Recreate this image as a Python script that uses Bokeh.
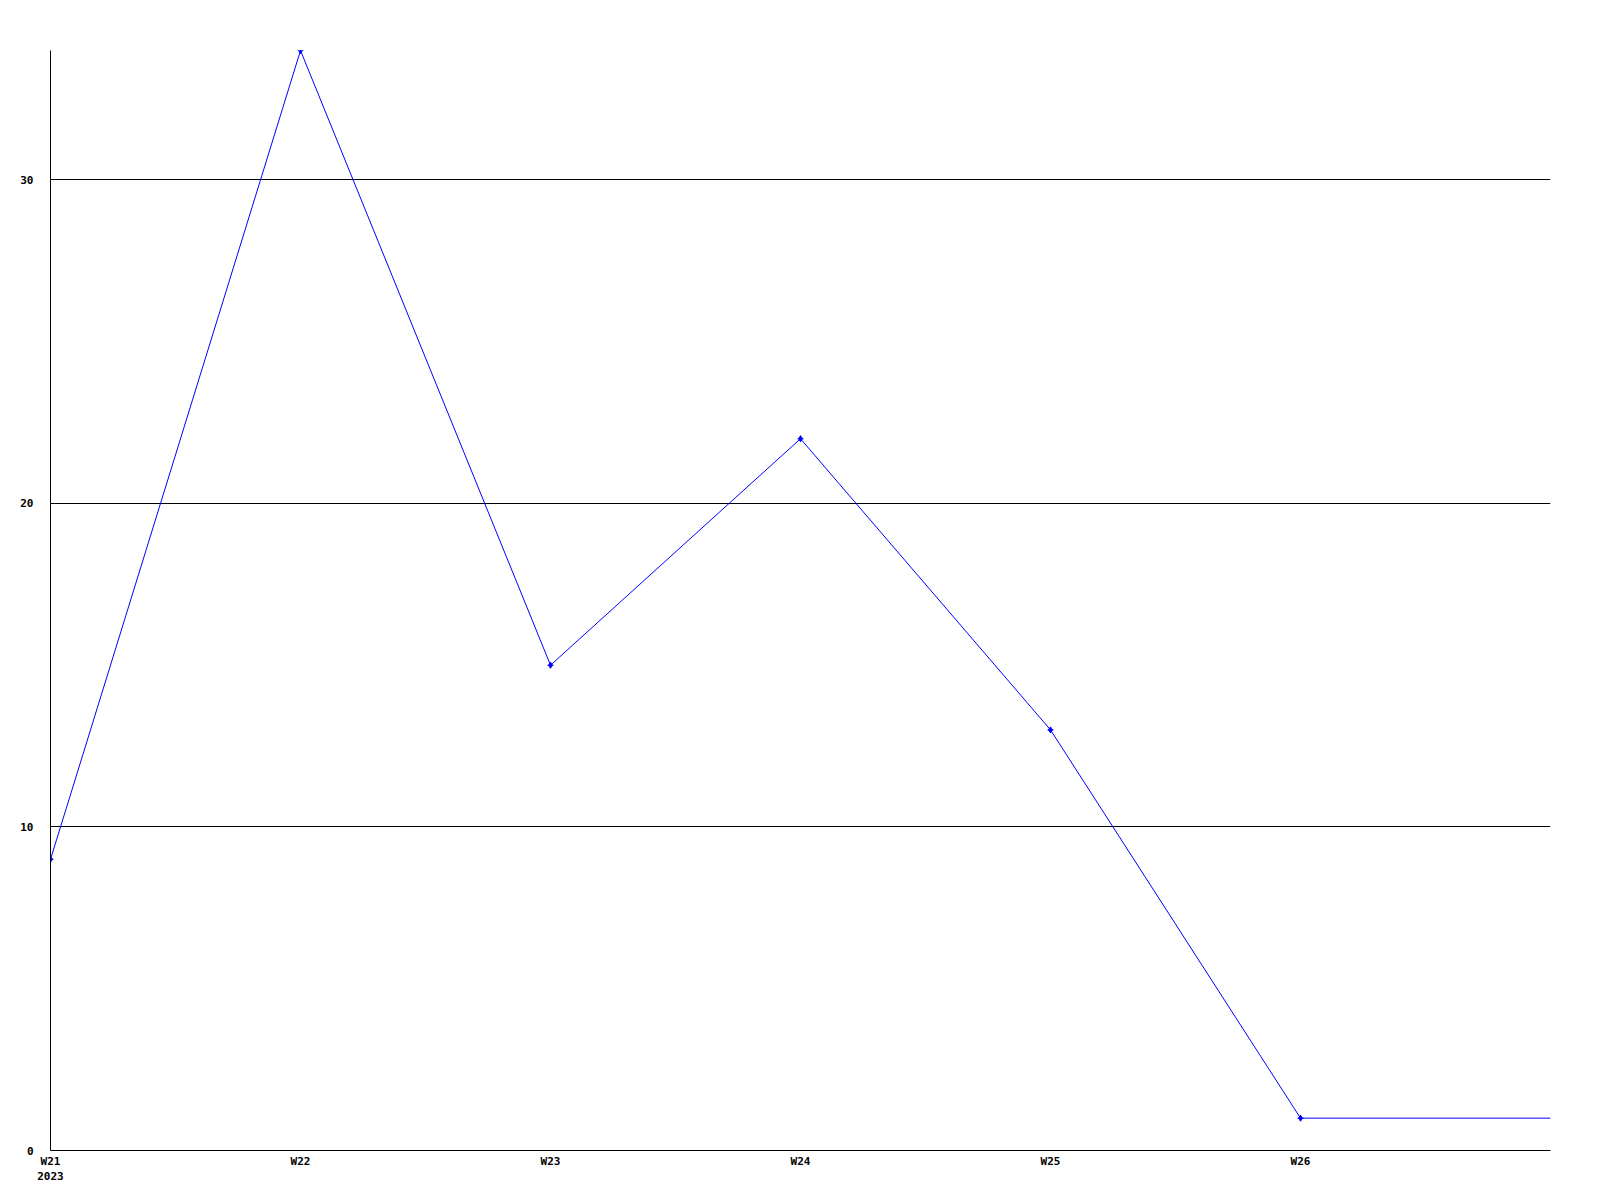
from bokeh.plotting import figure
from bokeh.models import Range1d, FixedTicker
from bokeh.embed import file_html
from bokeh.resources import INLINE

weeks = ["W21", "W22", "W23", "W24", "W25", "W26", "W27"]
values = [9, 34, 15, 22, 13, 1, 1]
tick_labels = ["W21\n2023", "W22", "W23", "W24", "W25", "W26"]
y_ticks = [0, 10, 20, 30]

xs = list(range(len(weeks)))

p = figure(width=1592, height=1192, output_backend="svg", toolbar_location=None,
           x_range=Range1d(0, len(weeks) - 1), y_range=Range1d(0, 34),
           min_border_left=50, min_border_top=50, min_border_right=42, min_border_bottom=42)
p.outline_line_color = None
p.background_fill_color = "white"
p.border_fill_color = "white"

p.line(xs, values, line_color="#0000ff", line_width=1)
n_mark = len(tick_labels)
p.scatter(xs[:n_mark], values[:n_mark], marker="diamond", size=6,
          fill_color="#0000ff", line_color="#0000ff")
p.scatter(xs[:n_mark], values[:n_mark], marker="cross", size=6,
          line_color="#0000ff", line_width=1)

p.xaxis.ticker = FixedTicker(ticks=list(range(len(tick_labels))))
p.xaxis.major_label_overrides = {i: t for i, t in enumerate(tick_labels)}
p.yaxis.ticker = FixedTicker(ticks=y_ticks)

for ax in (p.xaxis[0], p.yaxis[0]):
    ax.axis_line_color = "black"
    ax.axis_line_width = 1
    ax.major_tick_line_color = None
    ax.minor_tick_line_color = None
    ax.major_tick_out = 0
    ax.major_tick_in = 0
    ax.minor_tick_out = 0
    ax.major_label_text_font = "DejaVu Sans Mono"
    ax.major_label_text_font_style = "bold"
    ax.major_label_text_font_size = "11px"
    ax.major_label_text_color = "black"

p.xaxis.major_label_standoff = 4
p.yaxis.major_label_standoff = 17

p.xgrid.grid_line_color = None
p.ygrid.grid_line_color = "black"
p.ygrid.grid_line_width = 1
p.ygrid.grid_line_alpha = 1.0

open("out.html", "w").write(file_html(p, INLINE))
